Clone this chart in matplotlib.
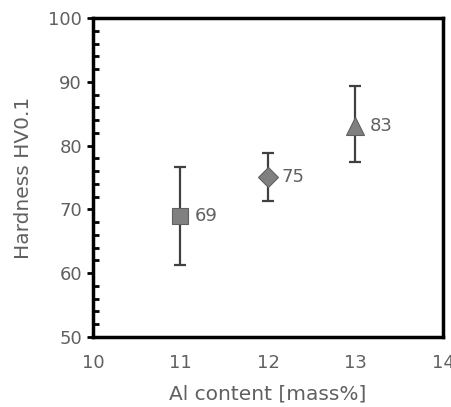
import matplotlib.pyplot as plt
from matplotlib.ticker import MultipleLocator

al = [11, 12, 13]
hv = [69.0, 75.1, 83.0]
err_lo = [61.3, 71.3, 77.4]
err_hi = [76.6, 78.8, 89.3]
labels = ['69', '75', '83']
markers = ['s', 'D', '^']
sizes = [11, 10, 13]

plt.rcParams['font.family'] = ['DejaVu Sans']
txt = '#606060'

fig = plt.figure(figsize=(4.52, 4.07), dpi=100)
ax = fig.add_axes([93/452, 1 - 337/407, 350/452, 319/407])

for x, y, lo, hi, m, s, lab in zip(al, hv, err_lo, err_hi, markers, sizes, labels):
    ax.errorbar(x, y, yerr=[[y - lo], [hi - y]], fmt='none', ecolor='#404040',
                elinewidth=1.6, capsize=4, capthick=1.6, zorder=2)
    ax.plot(x, y, marker=m, ms=s, color='#808080', mec='#606060', mew=0.8, zorder=3)
    ax.annotate(lab, (x, y), xytext=(10, 0), textcoords='offset points',
                va='center', ha='left', fontsize=13, color=txt)

ax.set_xlim(10, 14)
ax.set_ylim(50, 100)
ax.xaxis.set_major_locator(MultipleLocator(1))
ax.yaxis.set_major_locator(MultipleLocator(10))
ax.yaxis.set_minor_locator(MultipleLocator(2))
ax.tick_params(axis='x', length=0, pad=12, labelsize=13, labelcolor=txt)
ax.tick_params(axis='y', which='major', direction='out', length=4, width=2,
               labelsize=13, labelcolor=txt, pad=4)
ax.tick_params(axis='y', which='minor', direction='in', length=4, width=2)
for sp in ax.spines.values():
    sp.set_linewidth(2.5)
    sp.set_color('black')

ax.set_xlabel('Al content [mass%]', fontsize=14.5, color=txt, labelpad=9)
ax.set_ylabel('Hardness HV0.1', fontsize=14.5, color=txt, labelpad=11)

fig.savefig('out.png', dpi=100)
